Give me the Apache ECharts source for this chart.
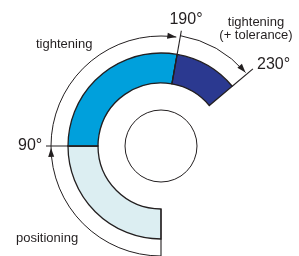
<!DOCTYPE html>
<html>
<head>
<meta charset="utf-8">
<style>
  html, body { margin: 0; padding: 0; background: #fff; }
  #chart { width: 299px; height: 256px; }
</style>
<script src="https://cdn.jsdelivr.net/npm/echarts@6/dist/echarts.min.js"></script>
</head>
<body>
<div id="chart"></div>
<script>
// segments of the ring, in degrees
const segNames = ['positioning', 'tightening', 'tightening', '(+ tolerance)'];
const segFrom = [0, 90, 190];
const segTo = [90, 190, 230];
// angle marks
const tickAngles = [90, 190, 230];
const tickLabels = ['90°', '190°', '230°'];

const segColors = ['#dceef2', '#00a0dc', '#2b3990'];
const ink = '#231f20';
const font = '"Liberation Sans", Arial, sans-serif';
const R_IN = 63, R_OUT = 93, R_HUB = 36;

const chart = echarts.init(document.getElementById('chart'), null, { renderer: 'canvas' });

function center(api) { return api.coord([0, 0]); }
function ang(api, c, a) {
  const p = api.coord([100, a]);
  return Math.atan2(p[1] - c[1], p[0] - c[0]);
}
function rad(api, c, r) {
  const p = api.coord([r, 0]);
  return Math.hypot(p[0] - c[0], p[1] - c[1]);
}
function span(api, c, a0, a1) {
  const s = ang(api, c, a0);
  let e = ang(api, c, a1);
  while (e <= s) e += Math.PI * 2;
  return [s, e];
}
function arrowHead(api, c, r, a) {
  const tip = api.coord([r, a]);
  const t = ang(api, c, a);
  const dx = -Math.sin(t), dy = Math.cos(t); // clockwise tangent
  const L = 9, W = 3;
  const bx = tip[0] - dx * L, by = tip[1] - dy * L;
  return {
    type: 'polygon',
    shape: { points: [tip, [bx - dy * W, by + dx * W], [bx + dy * W, by - dx * W]] },
    style: { fill: ink }
  };
}

// arcs with arrowheads: [radius, from, to, arrow angles...]
const arcs = [
  [110, 0, 188, [89, 188]],
  [112, 190, 229, [229]]
];
// radial lines: [angle, r0, r1]
const radial = [[0, R_IN, 125], [tickAngles[0], R_IN, 115], [tickAngles[1], R_IN, 117], [tickAngles[2], R_OUT, 120]];

const labelPos = [
  { x: 18, y: 146, align: 'left' },
  { x: 186, y: 20, align: 'center' },
  { x: 257, y: 65, align: 'left' }
];
const namePos = [
  { x: 16, y: 238, align: 'left' },
  { x: 36, y: 44, align: 'left' },
  { x: 256, y: 22, align: 'center' },
  { x: 256, y: 35, align: 'center' }
];

const texts = [];
tickLabels.forEach((t, i) => texts.push({
  type: 'text', x: labelPos[i].x, y: labelPos[i].y, silent: true,
  style: { text: t, font: '16px ' + font, fill: ink, textAlign: labelPos[i].align, textVerticalAlign: 'middle' }
}));
segNames.forEach((t, i) => texts.push({
  type: 'text', x: namePos[i].x, y: namePos[i].y, silent: true,
  style: { text: t, font: '13px ' + font, fill: ink, textAlign: namePos[i].align, textVerticalAlign: 'middle' }
}));

const option = {
  animation: false,
  polar: { center: [161, 146], radius: 120 },
  angleAxis: { type: 'value', min: 0, max: 360, startAngle: 270, clockwise: true, show: false },
  radiusAxis: { type: 'value', min: 0, max: 120, show: false },
  graphic: texts,
  series: [
    {
      type: 'custom',
      coordinateSystem: 'polar',
      silent: true,
      data: segFrom.map((f, i) => [f, segTo[i], i]),
      renderItem: (params, api) => {
        const c = center(api);
        const [s, e] = span(api, c, api.value(0), api.value(1));
        return {
          type: 'sector',
          shape: { cx: c[0], cy: c[1], r0: rad(api, c, R_IN), r: rad(api, c, R_OUT), startAngle: s, endAngle: e, clockwise: true },
          style: { fill: segColors[api.value(2)], stroke: ink, lineWidth: 1.3 }
        };
      }
    },
    {
      type: 'custom',
      coordinateSystem: 'polar',
      silent: true,
      data: [[R_HUB]],
      renderItem: (params, api) => {
        const c = center(api);
        return {
          type: 'circle',
          shape: { cx: c[0], cy: c[1], r: rad(api, c, api.value(0)) },
          style: { fill: '#fff', stroke: ink, lineWidth: 1 }
        };
      }
    },
    {
      type: 'custom',
      coordinateSystem: 'polar',
      silent: true,
      data: radial,
      renderItem: (params, api) => {
        const p0 = api.coord([api.value(1), api.value(0)]);
        const p1 = api.coord([api.value(2), api.value(0)]);
        return {
          type: 'line',
          shape: { x1: p0[0], y1: p0[1], x2: p1[0], y2: p1[1] },
          style: { stroke: ink, lineWidth: 1.1 }
        };
      }
    },
    {
      type: 'custom',
      coordinateSystem: 'polar',
      silent: true,
      data: arcs.map((a, i) => [a[0], a[1], a[2], i]),
      renderItem: (params, api) => {
        const c = center(api);
        const r = api.value(0);
        const [s, e] = span(api, c, api.value(1), api.value(2));
        const children = [{
          type: 'arc',
          shape: { cx: c[0], cy: c[1], r: rad(api, c, r), startAngle: s, endAngle: e, clockwise: true },
          style: { stroke: ink, lineWidth: 1, fill: null }
        }];
        arcs[api.value(3)][3].forEach(a => children.push(arrowHead(api, c, r, a)));
        return { type: 'group', children };
      }
    }
  ]
};

chart.setOption(option);
window.addEventListener('resize', () => chart.resize());
</script>
</body>
</html>
